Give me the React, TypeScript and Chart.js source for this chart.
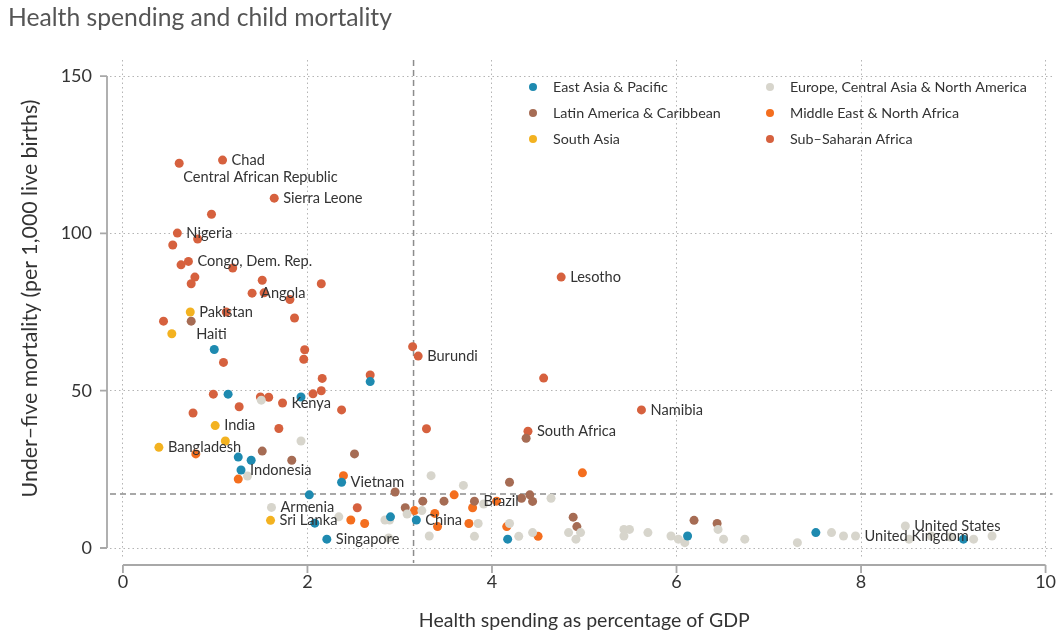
import { useEffect, useRef } from "react";
import { Chart, registerables } from "chart.js";

Chart.register(...registerables);

const FONT = "Lato, 'Open Sans', sans-serif";

// ---- data (health spending % GDP, under-five mortality per 1,000) ----
const regionNames = [
  "East Asia & Pacific",
  "Europe, Central Asia & North America",
  "Latin America & Caribbean",
  "Middle East & North Africa",
  "South Asia",
  "Sub\u2013Saharan Africa",
];
const regionColors = ["#1e8ab0", "#d7d5cc", "#a66c54", "#f46e1e", "#f3b220", "#d6613e"];

const eastAsiaPacific = [
  [0.99, 63.1], [1.14, 48.9], [1.93, 48.0], [2.68, 52.9], [1.25, 28.9], [1.39, 27.9],
  [1.28, 24.8], [2.37, 20.9], [2.02, 16.9], [2.08, 7.9], [2.21, 2.8], [2.9, 9.9],
  [3.18, 8.9], [4.17, 2.8], [6.12, 3.8], [7.51, 4.9], [9.11, 2.8],
];
const europeCentralAsiaNA = [
  [1.93, 34.0], [1.5, 47.0], [1.35, 22.9], [1.61, 12.9], [2.34, 9.9], [2.84, 8.9],
  [2.89, 8.9], [3.08, 10.8], [3.24, 11.9], [3.34, 23.0], [3.69, 19.9], [3.32, 3.8],
  [2.88, 3.2], [3.85, 7.8], [3.81, 3.7], [3.91, 14.0], [4.19, 7.8], [4.29, 3.7],
  [4.44, 4.9], [4.64, 15.8], [4.83, 4.9], [4.96, 4.9], [4.91, 2.8], [5.43, 5.9],
  [5.49, 5.9], [5.43, 3.8], [5.69, 4.9], [5.94, 3.8], [6.02, 2.8], [6.09, 1.7],
  [6.45, 5.9], [6.51, 2.8], [6.74, 2.8], [7.31, 1.7], [7.68, 4.9], [7.81, 3.8],
  [7.94, 3.8], [8.48, 7.0], [8.52, 2.8], [8.76, 3.8], [8.97, 3.5], [9.22, 2.8],
  [9.42, 3.8],
];
const latinAmericaCaribbean = [
  [0.74, 72.1], [1.83, 27.9], [1.51, 30.8], [2.51, 29.9], [2.95, 17.8], [3.06, 12.8],
  [3.25, 14.9], [3.48, 14.9], [3.81, 14.9], [4.19, 20.9], [4.32, 15.8], [4.41, 16.9],
  [4.44, 14.8], [4.37, 34.9], [4.88, 9.8], [4.92, 6.8], [6.19, 8.8], [6.44, 7.8],
];
const middleEastNorthAfrica = [
  [0.79, 29.9], [1.25, 21.9], [2.39, 23.0], [2.47, 8.9], [2.62, 7.8], [3.16, 11.9],
  [3.38, 11.0], [3.41, 6.8], [3.59, 16.9], [3.79, 12.8], [3.75, 7.8], [4.16, 6.8],
  [4.5, 3.7], [4.98, 23.9], [4.05, 14.9],
];
const southAsia = [
  [0.73, 75.0], [0.53, 68.1], [1.0, 38.9], [1.11, 34.0], [0.39, 32.0], [1.6, 8.8],
];
const subSaharanAfrica = [
  [0.61, 122.3], [1.08, 123.3], [1.64, 111.2], [0.96, 106.1], [0.59, 100.1], [0.81, 98.2],
  [0.54, 96.3], [0.63, 90.0], [0.71, 91.1], [1.19, 89.0], [0.78, 86.1], [0.74, 84.0],
  [1.51, 85.1], [2.15, 84.0], [1.4, 81.0], [1.53, 81.1], [1.81, 79.0], [1.12, 75.0],
  [0.44, 72.1], [1.86, 73.1], [1.97, 63.0], [1.96, 60.0], [1.09, 59.0], [2.16, 53.9],
  [2.15, 50.0], [2.06, 49.0], [0.98, 48.9], [1.49, 48.0], [1.58, 47.9], [1.73, 46.1],
  [1.26, 44.9], [2.37, 43.9], [0.76, 42.9], [1.69, 38.0], [2.68, 55.0], [3.14, 64.0],
  [3.2, 61.0], [4.56, 54.0], [3.29, 37.9], [4.39, 37.1], [4.75, 86.1], [5.62, 43.9],
  [2.54, 12.8],
];
const regionSeries = [
  eastAsiaPacific, europeCentralAsiaNA, latinAmericaCaribbean,
  middleEastNorthAfrica, southAsia, subSaharanAfrica,
];

// labelled countries: name, spending, mortality
const countryLabels: [string, number, number][] = [
  ["Chad", 1.08, 123.3],
  ["Central African Republic", 0.61, 122.3],
  ["Sierra Leone", 1.64, 111.2],
  ["Nigeria", 0.59, 100.1],
  ["Congo, Dem. Rep.", 0.71, 91.1],
  ["Angola", 1.4, 81.0],
  ["Pakistan", 0.73, 75.0],
  ["Haiti", 0.74, 72.1],
  ["India", 1.0, 38.9],
  ["Bangladesh", 0.39, 32.0],
  ["Kenya", 1.73, 46.1],
  ["Indonesia", 1.28, 24.8],
  ["Vietnam", 2.37, 20.9],
  ["Armenia", 1.61, 12.9],
  ["Sri Lanka", 1.6, 8.8],
  ["Singapore", 2.21, 2.8],
  ["China", 3.18, 8.9],
  ["Brazil", 3.81, 14.9],
  ["Burundi", 3.2, 61.0],
  ["South Africa", 4.39, 37.1],
  ["Lesotho", 4.75, 86.1],
  ["Namibia", 5.62, 43.9],
  ["United States", 8.48, 7.0],
  ["United Kingdom", 7.94, 3.8],
];
// label placement tweaks (pixels) for labels not placed right of their point
const labelShift: Record<string, [number, number]> = {
  "Central African Republic": [4, 14],
  Haiti: [5, 13],
};

const xAxisTitle = "Health spending as percentage of GDP";
const yAxisTitle = "Under\u2013five mortality (per 1,000 live births)";
const meanSpending = 3.15;
const meanMortality = 17.2;
const xTicksStep = 2;
const yTicksStep = 50;

const overlay = {
  id: "overlay",
  beforeDatasetsDraw(chart: any) {
    const { ctx, chartArea: a, scales } = chart;
    const x = scales.x;
    const y = scales.y;
    ctx.save();
    ctx.strokeStyle = "#8c8c8c";
    ctx.lineWidth = 1.5;
    ctx.setLineDash([6, 4]);
    const mx = x.getPixelForValue(meanSpending);
    ctx.beginPath();
    ctx.moveTo(mx, a.top);
    ctx.lineTo(mx, a.bottom + 6);
    ctx.stroke();
    const my = y.getPixelForValue(meanMortality);
    ctx.beginPath();
    ctx.moveTo(a.left, my);
    ctx.lineTo(a.right, my);
    ctx.stroke();
    ctx.restore();
  },
  afterDraw(chart: any) {
    const { ctx, chartArea: a, scales } = chart;
    const x = scales.x;
    const y = scales.y;
    ctx.save();
    // axis lines offset from plot
    ctx.strokeStyle = "#a8a8a8";
    ctx.lineWidth = 1.8;
    const yl = a.left - 3;
    const yTicks = y.ticks.map((t: any) => y.getPixelForValue(t.value));
    const yTop = Math.min(...yTicks);
    const yBot = Math.max(...yTicks);
    ctx.beginPath();
    ctx.moveTo(yl, yTop);
    ctx.lineTo(yl, yBot);
    yTicks.forEach((p: number) => {
      ctx.moveTo(yl - 7, p);
      ctx.lineTo(yl, p);
    });
    ctx.stroke();
    const xl = a.bottom + 8;
    const xTicks = x.ticks.map((t: any) => x.getPixelForValue(t.value));
    const xLeft = Math.min(...xTicks);
    const xRight = Math.max(...xTicks);
    ctx.beginPath();
    ctx.moveTo(xLeft, xl);
    ctx.lineTo(xRight, xl);
    xTicks.forEach((p: number) => {
      ctx.moveTo(p, xl);
      ctx.lineTo(p, xl + 8);
    });
    ctx.stroke();

    // axis titles
    ctx.fillStyle = "#333333";
    ctx.textAlign = "center";
    ctx.textBaseline = "middle";
    ctx.font = `19.5px ${FONT}`;
    ctx.fillText(xAxisTitle, (xLeft + xRight) / 2, a.bottom + 64);
    ctx.save();
    ctx.translate(30, (a.top + a.bottom) / 2 - 10);
    ctx.rotate(-Math.PI / 2);
    ctx.font = `21.3px ${FONT}`;
    ctx.fillText(yAxisTitle, 0, 0);
    ctx.restore();

    // country labels
    ctx.fillStyle = "#333333";
    ctx.font = `14.6px ${FONT}`;
    ctx.textAlign = "left";
    ctx.textBaseline = "middle";
    countryLabels.forEach(([name, vx, vy]) => {
      const [dx, dy] = labelShift[name] || [9, 0];
      ctx.fillText(name, x.getPixelForValue(vx) + dx, y.getPixelForValue(vy) + dy);
    });

    // legend, two columns inside plot
    ctx.font = `14.3px ${FONT}`;
    const colX = [a.left + 423, a.left + 660];
    const rowY = [a.top + 27, a.top + 53, a.top + 79];
    regionNames.forEach((name, i) => {
      const cx = colX[i % 2];
      const cy = rowY[Math.floor(i / 2)];
      ctx.beginPath();
      ctx.fillStyle = regionColors[i];
      ctx.arc(cx, cy, 4, 0, Math.PI * 2);
      ctx.fill();
      ctx.fillStyle = "#333333";
      ctx.fillText(name, cx + 20, cy);
    });
    ctx.restore();
  },
};

export default function App() {
  const ref = useRef<HTMLCanvasElement>(null);
  useEffect(() => {
    if (!ref.current) return;
    const chart = new Chart(ref.current, {
      type: "scatter",
      data: {
        datasets: regionSeries.map((pts, i) => ({
          label: regionNames[i],
          data: pts.map(([px, py]) => ({ x: px, y: py })),
          backgroundColor: regionColors[i],
          borderWidth: 0,
          pointRadius: 4.5,
          pointHoverRadius: 4.5,
        })),
      },
      options: {
        responsive: false,
        animation: false,
        events: [],
        layout: { padding: { left: 8, top: 0, right: 0, bottom: 0 } },
        plugins: {
          legend: { display: false },
          tooltip: { enabled: false },
          title: {
            display: true,
            text: "Health spending and child mortality",
            align: "start",
            color: "#555555",
            font: { family: FONT, size: 24.7, weight: "normal" },
            padding: { top: 3.5, bottom: 26.9 },
          },
        },
        scales: {
          x: {
            type: "linear",
            min: -0.14,
            max: 10.075,
            border: { display: false, dash: [1.5, 3] },
            grid: { color: "#b4b4b4", drawTicks: false, lineWidth: 1 },
            ticks: {
              stepSize: xTicksStep,
              includeBounds: false,
              padding: 14,
              color: "#333333",
              font: { family: FONT, size: 18 },
            },
            afterFit: (s: any) => {
              s.height = 78;
              s.paddingLeft = 0;
              s.paddingRight = 0;
            },
          },
          y: {
            type: "linear",
            min: -2.86,
            max: 155.1,
            border: { display: false, dash: [1.5, 3] },
            grid: { color: "#b4b4b4", drawTicks: false, lineWidth: 1 },
            ticks: {
              stepSize: yTicksStep,
              includeBounds: false,
              padding: 18,
              color: "#333333",
              font: { family: FONT, size: 18 },
            },
            afterFit: (s: any) => {
              s.width = 102;
              s.paddingTop = 0;
              s.paddingBottom = 0;
            },
          },
        },
      },
      plugins: [overlay],
    });
    return () => chart.destroy();
  }, []);
  return (
    <div style={{ position: "absolute", left: 0, top: 0, width: 1057, height: 635, background: "#fff" }}>
      <canvas ref={ref} width={1057} height={635} style={{ display: "block" }} />
    </div>
  );
}
